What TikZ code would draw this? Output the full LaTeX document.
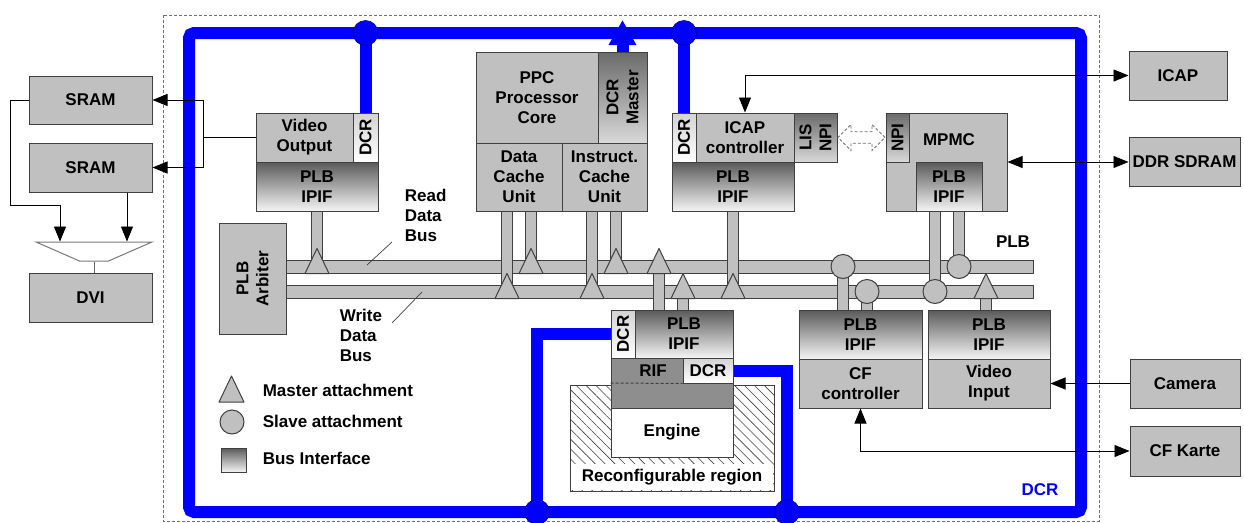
\documentclass[tikz,border=0pt]{standalone}
\usepackage{fontspec}
\setmainfont{Liberation Sans}
\usetikzlibrary{arrows.meta, positioning, shapes.geometric, shapes.arrows, patterns.meta, calc}
\definecolor{cblk}{HTML}{C0C0C0}
\definecolor{cline}{HTML}{404040}
\definecolor{cdark}{HTML}{5A5A5A}
\definecolor{cmid}{HTML}{8E8E8E}
\definecolor{cdcr}{HTML}{0000FF}
\definecolor{cdash}{HTML}{707070}
\tikzset{
  every picture/.style={line width=1pt},
  txt/.style={font=\fontsize{17}{20}\selectfont\bfseries, align=center},
  blk/.style={draw=cline, fill=cblk, inner sep=0pt, txt},
  sz/.style 2 args={minimum width=#1pt, minimum height=#2pt},
  ipif/.style={blk, top color=cdark, bottom color=white!96!black},
  light/.style={blk, top color=cblk!70!white, bottom color=white},
  dark/.style={blk, top color=cdark!90!white, bottom color=cblk!60!white},
  vtext/.style={label={[txt, rotate=90]center:#1}},
  arr/.style={-{Triangle[length=15pt, width=12pt]}, draw=black, line width=0.9pt},
  darr/.style={{Triangle[length=15pt, width=12pt]}-{Triangle[length=15pt, width=12pt]}, draw=black, line width=0.9pt},
  dcrline/.style={draw=cdcr, line width=12pt},
  jdot/.style={circle, fill=cdcr, draw=cdcr!60!black, line width=0.6pt, minimum size=25pt, inner sep=0pt},
  busbar/.style={draw=cline, fill=cblk, inner sep=0pt},
  stub/.style={draw=cline, double=cblk, double distance=10.5pt, line width=0.9pt},
  slave/.style={circle, draw=cline, fill=cblk, minimum size=24pt, inner sep=0pt},
  mast/.style={draw=cline, fill=cblk, line join=round},
}
\begin{document}
\begin{tikzpicture}[x=1pt, y=-1pt]
  \useasboundingbox (0,0) rectangle (1244,522);
  % FPGA border and DCR ring
  \draw[cdash, dash pattern=on 3pt off 2pt, line width=0.8pt] (163,15) rectangle (1099,521);
  \coordinate (ringnw) at (189,33);
  \coordinate (ringse) at (1081,512);
  \draw[dcrline, rounded corners=5pt] (ringnw) rectangle (ringse);
  % external memories and display
  \node[blk, sz={123}{48}] (sram1) at (90.5,100) {SRAM};
  \node[blk, sz={123}{49}] (sram2) at (90.5,167.5) {SRAM};
  \node[blk, sz={123}{49}] (dvi) at (90.5,297.5) {DVI};
  \node[trapezium, trapezium stretches=true, trapezium angle=33.7, shape border rotate=180, sz={116}{19}, draw=cline!70, fill=white, inner sep=1pt] (mux) at (94,251.5) {};
  % video output
  \node[blk, sz={97}{49}] (vout) at (304.5,137.5) {Video\\Output};
  \node[light, sz={25}{49}, vtext=DCR] (voutdcr) at (365.5,137.5) {};
  \node[ipif, sz={122}{49}] (voutplb) at (317,186.5) {PLB\\IPIF};
  % PPC
  \node[blk, sz={122}{91}] (ppc) at (537,97.5) {PPC\\Processor\\Core};
  \node[dark, sz={49}{91}, vtext={DCR\\Master}] (dcrm) at (622.5,97.5) {};
  \node[blk, sz={86}{68}] (dcu) at (519,177) {Data\\Cache\\Unit};
  \node[blk, sz={85}{68}] (icu) at (604.5,177) {Instruct.\\Cache\\Unit};
  % ICAP controller
  \node[light, sz={24}{49}, vtext=DCR] (icdcr) at (684,137.5) {};
  \node[blk, sz={98}{49}] (icapc) at (745,137.5) {ICAP\\controller};
  \node[dark, sz={43}{49}, vtext={LIS\\NPI}] (icnpi) at (815.5,137.5) {};
  \node[ipif, sz={122}{49}] (icplb) at (733,186.5) {PLB\\IPIF};
  % MPMC
  \node[blk, sz={121}{98}] (mpmc) at (946.5,162) {};
  \node[txt] (mpmctxt) at (949,140) {MPMC};
  \node[dark, sz={23}{49}, vtext=NPI] (mpnpi) at (897.5,137.5) {};
  \node[ipif, sz={66}{49}] (mpplb) at (949,186.5) {PLB\\IPIF};
  \node[double arrow, draw=cdash, densely dashed, fill=white, line width=0.8pt, double arrow head extend=7pt, minimum height=47pt, minimum width=26pt, inner sep=5pt] (npiarr) at ($(icnpi.east)!0.5!(mpnpi.west)$) {};
  % outside peripherals
  \node[blk, sz={98}{49}] (icap) at (1178,75.5) {ICAP};
  \node[blk, sz={111}{49}] (ddr) at (1184.5,161.5) {DDR SDRAM};
  \node[blk, sz={110}{49}] (cam) at (1185,383.5) {Camera};
  \node[blk, sz={110}{50}] (cfk) at (1185,451) {CF Karte};
  % PLB
  \node[busbar, sz={747}{13}] (rbus) at (659.5,266.5) {};
  \node[busbar, sz={747}{13}] (wbus) at (659.5,291.5) {};
  \node[blk, sz={67}{111}, vtext={PLB\\Arbiter}] (arb) at (252.5,278.5) {};
  \node[txt, align=left, anchor=west] (rdlab) at (401,215) {Read\\Data\\Bus};
  \node[txt, align=left, anchor=west] (wrlab) at (336,335) {Write\\Data\\Bus};
  \node[txt] (plblab) at (1013,242) {PLB};
  \coordinate (rdl1) at (392,242);
  \coordinate (rdl2) at (367,265);
  \coordinate (wrl1) at (392,323);
  \coordinate (wrl2) at (422,292);
  \draw[cline, line width=0.7pt] (rdl1) -- (rdl2);
  \draw[cline, line width=0.7pt] (wrl1) -- (wrl2);
  % reconfigurable region
  \node[draw=cline, pattern={Lines[angle=-45, distance=7pt, line width=0.6pt]}, pattern color=cline, sz={204}{106}, inner sep=0pt] (region) at (672,438) {};
  \node[txt, fill=white, sz={202}{26}, anchor=south] (regtxt) at ([yshift=1pt]region.south) {Reconfigurable region};
  \node[blk, fill=white, sz={122}{49}] (engine) at (672,432.5) {Engine};
  \node[blk, fill=cmid, sz={122}{50}] (rifbar) at (672,383) {};
  \node[txt] (riftxt) at (653,370.5) {RIF};
  \node[light, sz={50}{25}] (rmdcr2) at (708,370.5) {DCR};
  \draw[cline, densely dashed] (rifbar.west) -- (rmdcr2.south west);
  \node[light, sz={24}{48}, vtext=DCR] (rmdcr) at (623,334) {};
  \node[ipif, sz={98}{48}] (rmplb) at (684,334) {PLB\\IPIF};
  % CF controller and video input
  \node[ipif, sz={123}{49}] (cfplb) at (860.5,334.5) {PLB\\IPIF};
  \node[blk, sz={123}{49}] (cfc) at (860.5,383.5) {CF\\controller};
  \node[ipif, sz={122}{49}] (viplb) at (989,334.5) {PLB\\IPIF};
  \node[blk, sz={122}{49}] (vin) at (989,383.5) {Video\\Input};
  % attachments
  \foreach \n/\x/\b in {voutplb/317/rbus, dcu/507/wbus, dcu/531/rbus, icu/592/wbus, icu/616/rbus, icplb/733/wbus, mpplb/935/wbus, mpplb/959/rbus}
    \draw[stub] (\n.south -| \x,0) -- (\b.center -| \x,0);
  \foreach \n/\x/\b in {rmplb/659/rbus, rmplb/683/wbus, cfplb/843/rbus, cfplb/867/wbus, viplb/986/wbus}
    \draw[stub] (\n.north -| \x,0) -- (\b.center -| \x,0);
  \foreach \x/\b in {317/rbus, 531/rbus, 616/rbus, 659/rbus, 507/wbus, 592/wbus, 683/wbus, 733/wbus, 986/wbus}
    \path[mast] (\b.south -| \x,0) ++(-12,0) -- ++(12,-25) -- ++(12,25) -- cycle;
  \foreach \x/\b in {843/rbus, 959/rbus, 867/wbus, 935/wbus}
    \node[slave] (s\x) at (\b.center -| \x,0) {};
  % DCR connections
  \coordinate (ja) at (voutdcr.north |- ringnw);
  \coordinate (jb) at (icdcr.north |- ringnw);
  \coordinate (jc) at (537,512);
  \coordinate (jd) at (787,512);
  \coordinate (dcrtip) at (dcrm.north |- 0,20);
  \draw[dcrline] (voutdcr.north) -- (ja);
  \draw[dcrline] (icdcr.north) -- (jb);
  \draw[dcrline] (rmdcr.west) -| (jc);
  \draw[dcrline] (rmdcr2.east) -| (jd);
  \draw[dcrline, -{Triangle[length=25pt, width=26pt]}] (dcrm.north) -- (dcrtip);
  \foreach \j in {ja, jb, jc, jd}
    \node[jdot] (dot\j) at (\j) {};
  \node[txt, text=cdcr] (dcrlab) at (1040,490) {DCR};
  % signal arrows
  \draw[arr] (vout.west) -- ++(-52,0) |- (sram1.east);
  \draw[arr] (vout.west) -- ++(-52,0) |- (sram2.east);
  \draw[arr] (sram1.west) -- ++(-18,0) -- ++(0,105) -| ([xshift=-34pt]mux.north);
  \draw[arr] ([xshift=36.5pt]sram2.south) -- ([xshift=36.5pt]sram2.south |- mux.north);
  \draw[cline!80] (mux.south) -- (mux.south |- dvi.north);
  \draw[darr] (icapc.north) |- (icap.west);
  \draw[darr] (mpmc.east) -- (mpmc.east -| ddr.west);
  \draw[arr] (cam.west) -- (vin.east);
  \draw[darr] (cfc.south) |- (cfk.west);
  % legend
  \path[mast] (219,402) -- (231.5,376) -- (244,402) -- cycle;
  \node[slave] (lgslave) at (232,422) {};
  \node[ipif, sz={25}{24}] (lgbus) at (233.5,460) {};
  \node[txt, anchor=west] (lgm) at (259,390) {Master attachment};
  \node[txt, anchor=west] (lgs) at (259,421) {Slave attachment};
  \node[txt, anchor=west] (lgb) at (259,458) {Bus Interface};
\end{tikzpicture}
\end{document}
